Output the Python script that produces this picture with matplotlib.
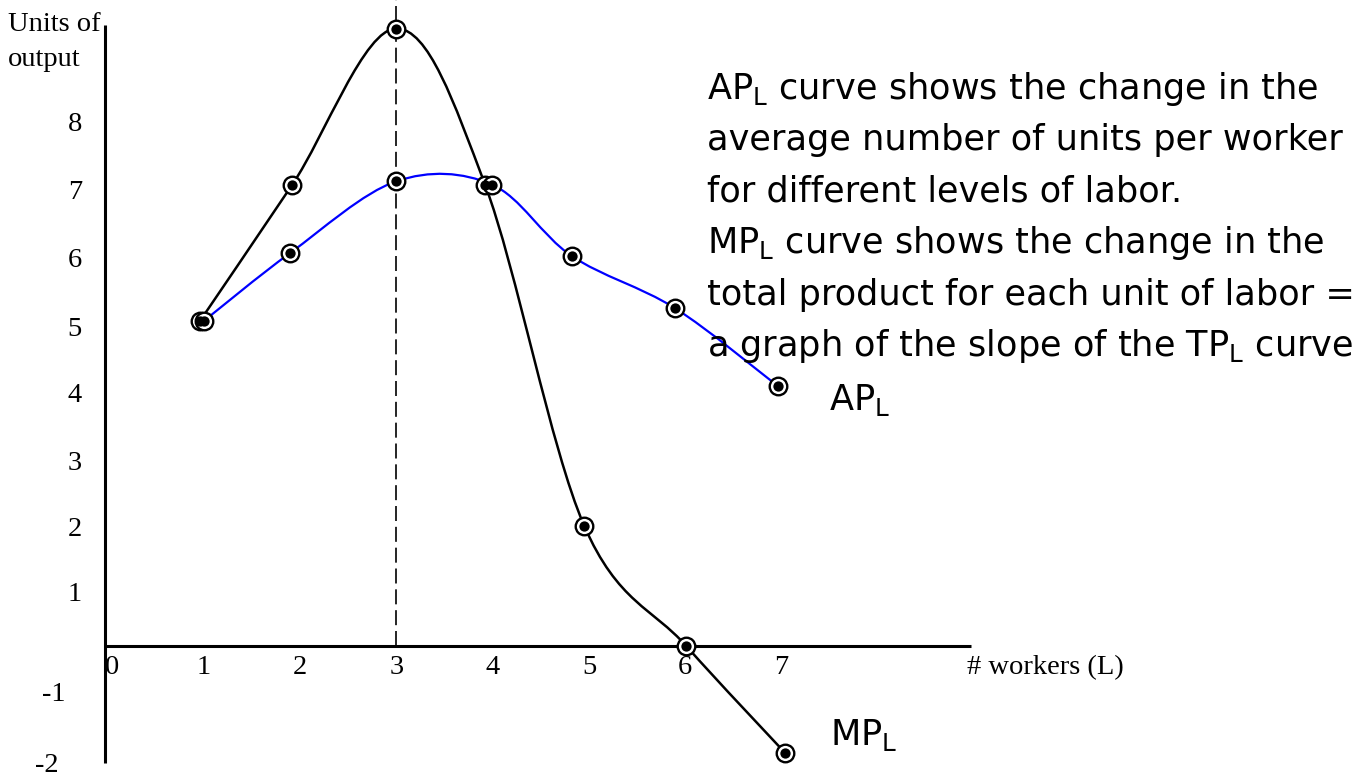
import numpy as np
import matplotlib
matplotlib.use("Agg")
import matplotlib.pyplot as plt
from matplotlib.path import Path
from matplotlib.patches import PathPatch

# values
mp_x = [0.96, 1.92, 3.0, 3.92, 4.95, 6.01, 7.04]
mp_y = [5.0, 7.1, 9.5, 7.1, 1.85, 0.0, -1.65]
ap_x = [1.0, 1.9, 3.0, 3.99, 4.82, 5.89, 6.96]
ap_y = [5.0, 6.05, 7.15, 7.1, 6.0, 5.2, 4.0]
x_ticks = [0, 1, 2, 3, 4, 5, 6, 7]
y_ticks = [8, 7, 6, 5, 4, 3, 2, 1, -1, -2]
notes = [
    r"$\mathregular{AP_L}$ curve shows the change in the",
    "average number of units per worker",
    "for different levels of labor.",
    r"$\mathregular{MP_L}$ curve shows the change in the",
    "total product for each unit of labor =",
    r"a graph of the slope of the $\mathregular{TP_L}$ curve",
]

W, H = 1371, 778
X0, SX = 107.5, 96.3   # pixel of x=0, pixels per worker
Y0, SY = 646, 65.0     # pixel of y=0, pixels per unit


def dx(px):
    return (px - X0) / SX


def dy(py):
    return (Y0 - py) / SY


def smooth_path(xs, ys):
    # catmull-rom through the points, as cubic bezier segments
    p = np.column_stack([xs, ys])
    pe = np.vstack([p[0], p, p[-1]])
    verts = [p[0]]
    codes = [Path.MOVETO]
    for i in range(len(p) - 1):
        p0, p1, p2, p3 = pe[i], pe[i + 1], pe[i + 2], pe[i + 3]
        verts += [p1 + (p2 - p0) / 6, p2 - (p3 - p1) / 6, p2]
        codes += [Path.CURVE4] * 3
    return Path(verts, codes)


fig = plt.figure(figsize=(W / 100, H / 100), dpi=100)
ax = fig.add_axes([0, 0, 1, 1])
ax.set_xlim(dx(0), dx(W))
ax.set_ylim(dy(H), dy(0))
ax.axis("off")

serif = "Liberation Serif"
hand = "DejaVu Sans"
fsz = 20.5

# axes
ax.plot([dx(105), dx(105)], [dy(763), dy(25)], color="black", lw=2.2, solid_capstyle="butt")
ax.plot([dx(104), dx(971)], [0, 0], color="black", lw=2.2, solid_capstyle="butt")
ax.plot([3, 3], [0, dy(0)], color="black", lw=1.2, ls=(0, (9, 3.5)))

# curves
ax.add_patch(PathPatch(smooth_path(mp_x, mp_y), fill=False, color="black", lw=1.8, zorder=3))
ax.add_patch(PathPatch(smooth_path(ap_x, ap_y), fill=False, color="#0000ff", lw=1.6, zorder=3))

for xs, ys in [(mp_x, mp_y), (ap_x, ap_y)]:
    ax.scatter(xs, ys, s=160, facecolor="white", edgecolor="black", linewidth=1.7, zorder=4)
    ax.scatter(xs, ys, s=55, color="black", linewidth=0, zorder=5)

# tick labels
x_nudge = {0: 4}
for v in x_ticks:
    ax.text(v + x_nudge.get(v, 0) / SX, dy(674), str(v), ha="center", va="baseline",
            fontsize=fsz, family=serif)

y_nudge = {8: -4, 7: -1, 6: 2, 5: 6, 4: 7, 3: 10, 2: 11, 1: 11, -1: -19, -2: -13}
y_right = {-1: 65, -2: 59}
for v in y_ticks:
    ax.text(dx(y_right.get(v, 82)), v - (y_nudge[v] + 9) / SY, str(v), ha="right", va="baseline",
            fontsize=fsz, family=serif)

ax.text(dx(8), dy(31), "Units of", ha="left", va="baseline", fontsize=fsz, family=serif)
ax.text(dx(8), dy(66), "output", ha="left", va="baseline", fontsize=fsz, family=serif)
ax.text(dx(967), dy(674), "# workers (L)", ha="left", va="baseline", fontsize=fsz, family=serif)

# explanation text, sized so the longest line spans the same width as the original
renderer = fig.canvas.get_renderer()
probe = ax.text(0, 0, notes[4], fontsize=20, family=hand)
fs = 20 * 648 / probe.get_window_extent(renderer).width
probe.remove()

for i, line in enumerate(notes):
    ax.text(dx(707), dy(99 + 51.4 * i), line, ha="left", va="baseline", fontsize=fs, family=hand)

ax.text(dx(829), dy(410), r"$\mathregular{AP_L}$", ha="left", va="baseline", fontsize=fs, family=hand)
ax.text(dx(830), dy(745), r"$\mathregular{MP_L}$", ha="left", va="baseline", fontsize=fs, family=hand)

fig.savefig("out.png", dpi=100)
